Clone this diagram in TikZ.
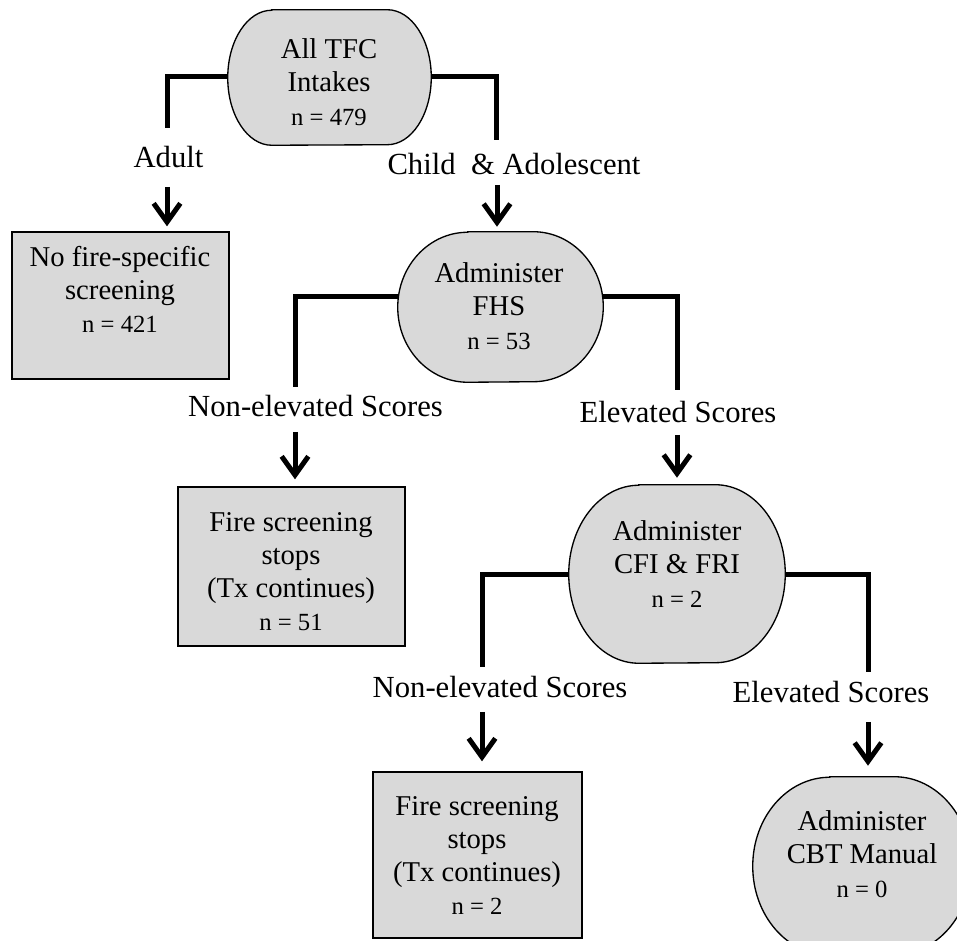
\documentclass[tikz,border=0pt]{standalone}
\usepackage{fontspec}
\setmainfont{Liberation Serif}
\usetikzlibrary{arrows.meta}
\definecolor{boxgray}{RGB}{217,217,217}
\newcommand\nsize{\fontsize{18.5}{24.75}\selectfont}
\newcommand\stadium[7]{%
  \node[hull, minimum width=#4pt, minimum height=#5pt] (#1) at (#2,#3) {};
  \filldraw[shapeline] ([xshift=#6pt]#1.north west) -- ([xshift=-#6pt]#1.north east)
    arc[start angle=90, end angle=-90, x radius=#6pt, y radius=#7pt]
    -- ([xshift=#6pt]#1.south west)
    arc[start angle=270, end angle=90, x radius=#6pt, y radius=#7pt] -- cycle;}
\tikzset{
  hull/.style={rectangle, inner sep=0pt, draw=none},
  shapeline/.style={draw=black, line width=1pt, fill=boxgray},
  boxnode/.style={rectangle, inner sep=0pt, draw=black, line width=1pt, fill=boxgray},
  txt/.style={align=center, inner sep=0pt, font=\fontsize{21.5}{24.75}\selectfont},
  lbl/.style={inner sep=0pt, anchor=base, font=\fontsize{23}{27}\selectfont},
  conn/.style={line width=3.75pt, line join=miter},
  arr/.style={line width=3.75pt, -{Straight Barb[length=14pt,width=20pt]}},
}
\begin{document}
\begin{tikzpicture}[x=0.75pt, y=0.75pt]
\useasboundingbox (0,0) rectangle (957,941);
\fill[white] (0,0) rectangle (957,941);
\clip (0,0) rectangle (957,941);

% shapes
\stadium{all}{329.5}{863.5}{152.25}{101.25}{33}{50.625}
\stadium{fhs}{500.5}{634}{153.75}{112.5}{52.5}{56.25}
\stadium{cfi}{677}{367}{162}{133.5}{52.5}{66.75}
\stadium{cbt}{862}{75}{163.5}{133.5}{57.75}{66.75}
\node[boxnode, minimum width=162.75pt, minimum height=110.25pt] (nofire) at (120.5,635.5) {};
\node[boxnode, minimum width=170.25pt, minimum height=119.25pt] (stopA) at (291.5,374.5) {};
\node[boxnode, minimum width=156.75pt, minimum height=124.5pt] (stopB) at (477.5,86) {};

% texts
\node[txt] (allT) at (329,858.8) {All TFC\\Intakes\\[0.75pt]{\nsize n = 479}};
\node[txt] (fhsT) at (499,634.8) {Administer\\FHS\\[0.75pt]{\nsize n = 53}};
\node[txt] (cfiT) at (677,376.8) {Administer\\CFI \& FRI\\[0.75pt]{\nsize n = 2}};
\node[txt] (cbtT) at (862,86.8) {Administer\\CBT Manual\\[0.75pt]{\nsize n = 0}};
\node[txt] (nofireT) at (120,651.3) {No fire-specific\\screening\\{\nsize n = 421}};
\node[txt] (stopAT) at (291,369.3) {Fire screening\\stops\\(Tx continues)\\{\nsize n = 51}};
\node[txt] (stopBT) at (477,85.8) {Fire screening\\stops\\(Tx continues)\\{\nsize n = 2}};

% labels
\node[lbl] (adult) at (168.5,773) {Adult};
\node[lbl] (child) at (514,766) {Child\ \ \& Adolescent};
\node[lbl] (ne1) at (315.5,524) {Non-elevated Scores};
\node[lbl] (el1) at (678,518) {Elevated Scores};
\node[lbl] (ne2) at (500,243) {Non-elevated Scores};
\node[lbl] (el2) at (831,238) {Elevated Scores};

% branch connectors
\coordinate (k1) at (167,864); \coordinate (c1) at (167,813);
\coordinate (k2) at (496,864); \coordinate (c2) at (496,801);
\coordinate (k3) at (295,644.5); \coordinate (c3) at (295,554);
\coordinate (k4) at (677,644.5); \coordinate (c4) at (677,551);
\coordinate (k5) at (482,366); \coordinate (c5) at (482,274);
\coordinate (k6) at (868,366); \coordinate (c6) at (868,269);
\draw[conn] (all.west |- k1) -- (k1) -- (c1);
\draw[conn] (all.east |- k2) -- (k2) -- (c2);
\draw[conn] (fhs.west |- k3) -- (k3) -- (c3);
\draw[conn] (fhs.east |- k4) -- (k4) -- (c4);
\draw[conn] (cfi.west |- k5) -- (k5) -- (c5);
\draw[conn] (cfi.east |- k6) -- (k6) -- (c6);

% arrows
\coordinate (s1) at (167,754);
\coordinate (s2) at (497,756);
\coordinate (s3) at (295,509);
\coordinate (s4) at (677,506);
\coordinate (s5) at (482,229);
\coordinate (s6) at (868,219);
\draw[arr, shorten >=3.75pt] (s1) -- (s1 |- nofire.north);
\draw[arr, shorten >=3.75pt] (s2) -- (s2 |- fhs.north);
\draw[arr, shorten >=5.25pt] (s3) -- (s3 |- stopA.north);
\draw[arr, shorten >=5.25pt] (s4) -- (s4 |- cfi.north);
\draw[arr, shorten >=7.5pt] (s5) -- (s5 |- stopB.north);
\draw[arr, shorten >=8.25pt] (s6) -- (s6 |- cbt.north);
\end{tikzpicture}
\end{document}
